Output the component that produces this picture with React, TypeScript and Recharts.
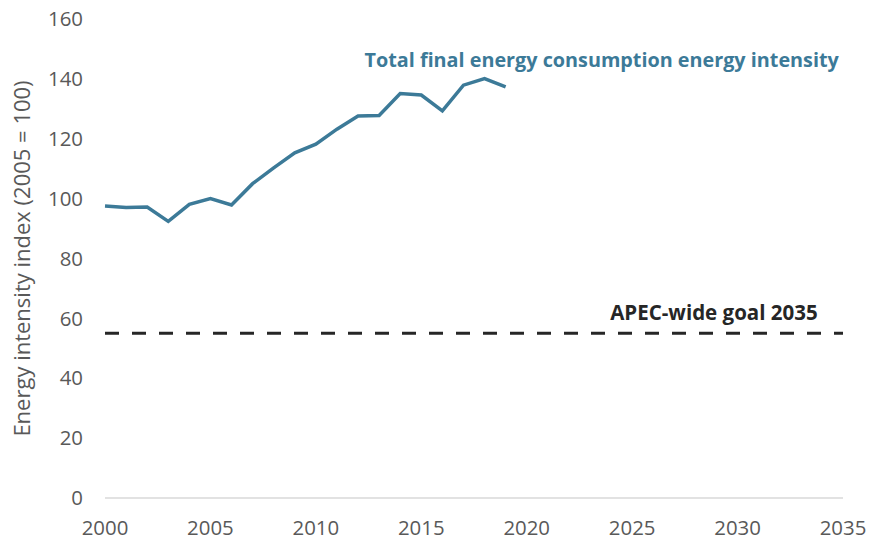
import { LineChart, Line, XAxis, YAxis, ReferenceLine, ReferenceDot } from 'recharts';

const years = [
  2000, 2001, 2002, 2003, 2004, 2005, 2006, 2007, 2008, 2009,
  2010, 2011, 2012, 2013, 2014, 2015, 2016, 2017, 2018, 2019,
];
const intensity = [
  97.5, 97.0, 97.2, 92.4, 98.1, 100, 97.9, 105.0, 110.3, 115.3,
  118.2, 123.2, 127.6, 127.8, 135.1, 134.6, 129.3, 137.9, 140.1, 137.3,
];
const goalValue = 55;
const xTicks = [2000, 2005, 2010, 2015, 2020, 2025, 2030, 2035];
const yTicks = [0, 20, 40, 60, 80, 100, 120, 140, 160];

const seriesLabel = 'Total final energy consumption energy intensity';
const goalLabel = 'APEC-wide goal 2035';
const yTitle = 'Energy intensity index (2005 = 100)';

const data = years.map((year, i) => ({ year, value: intensity[i] }));

const FONT = 'Open Sans, sans-serif';
const LINE_COLOR = '#3c7a98';

// rotated y-axis title, centred on the plot's vertical extent
function YTitle(props: any) {
  const vb = props.viewBox || {};
  const cx = 21;
  const cy = vb.y + vb.height / 2;
  return (
    <text
      x={cx}
      y={cy}
      transform={`rotate(-90, ${cx}, ${cy})`}
      textAnchor="middle"
      dominantBaseline="central"
      fontSize={22}
      fill="#595959"
      fontFamily={FONT}
    >
      {yTitle}
    </text>
  );
}

export default function App() {
  return (
    <div style={{ position: 'absolute', left: 0, top: 0, background: '#fff' }}>
      <LineChart
        width={870}
        height={541}
        data={data}
        margin={{ top: 19, right: 27, left: 0, bottom: 0 }}
      >
        <XAxis
          dataKey="year"
          type="number"
          domain={[2000, 2035]}
          ticks={xTicks}
          height={43}
          tickLine={false}
          axisLine={{ stroke: '#d9d9d9', strokeWidth: 1.5 }}
          tick={{ fontSize: 20.4, fill: '#595959', fontFamily: FONT }}
          tickMargin={17}
          interval={0}
        />
        <YAxis
          domain={[0, 160]}
          ticks={yTicks}
          width={105}
          tickLine={false}
          axisLine={false}
          tick={{ fontSize: 20.4, fill: '#595959', fontFamily: FONT }}
          tickMargin={16}
          label={<YTitle />}
        />
        <ReferenceLine
          y={goalValue}
          stroke="#262626"
          strokeWidth={3}
          strokeDasharray="14 13"
        />
        <Line
          dataKey="value"
          stroke={LINE_COLOR}
          strokeWidth={3.5}
          dot={false}
          isAnimationActive={false}
        />
        <ReferenceDot
          x={2034.8}
          y={146.3}
          r={0}
          label={{
            value: seriesLabel,
            position: 'left',
            offset: 0,
            style: { fontSize: 19.8, fontWeight: 700, fill: LINE_COLOR, fontFamily: FONT, textAnchor: 'end' },
          }}
        />
        <ReferenceDot
          x={2033.8}
          y={62}
          r={0}
          label={{
            value: goalLabel,
            position: 'left',
            offset: 0,
            style: { fontSize: 20.5, fontWeight: 700, fill: '#262626', fontFamily: FONT, textAnchor: 'end' },
          }}
        />
      </LineChart>
    </div>
  );
}
